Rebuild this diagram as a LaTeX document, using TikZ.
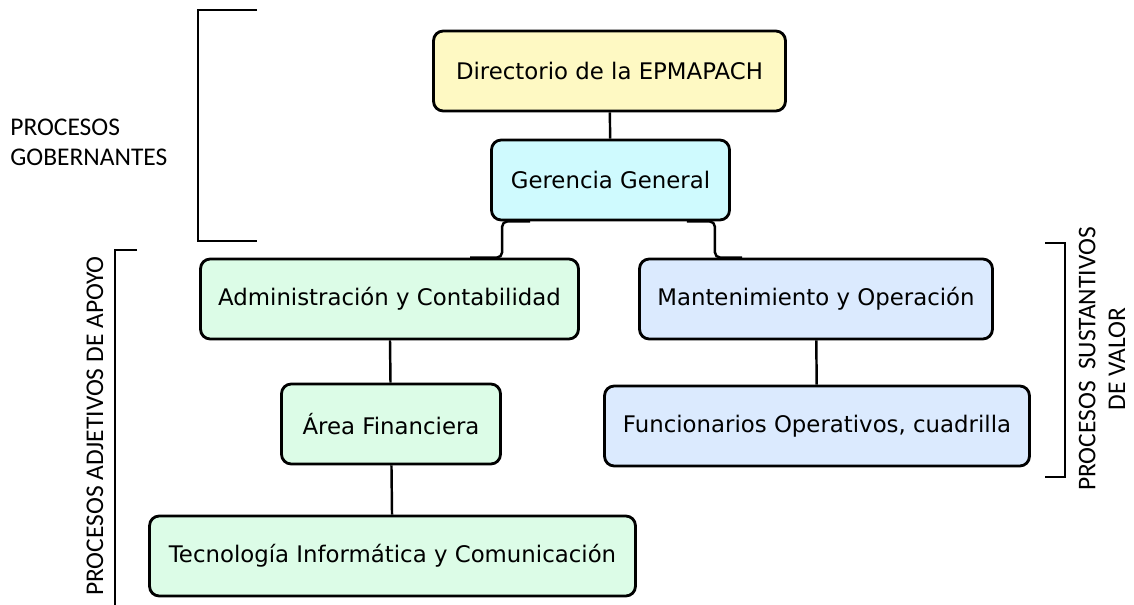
\documentclass[tikz,border=0pt]{standalone}
\usepackage{fontspec}
\setmainfont{DejaVu Sans}
\newfontfamily\etiqfont{Carlito}
\usetikzlibrary{calc,positioning}
\definecolor{dirYellow}{HTML}{FEF9C3}
\definecolor{gerCyan}{HTML}{CFFAFE}
\definecolor{apoyoGreen}{HTML}{DCFCE7}
\definecolor{valorBlue}{HTML}{DBEAFE}
\tikzset{caja/.style={rectangle,rounded corners=5.5pt,draw=black,line width=1.6pt,minimum height=1.6cm,inner sep=0pt,font=\fontsize{13}{15}\selectfont},
  enlace/.style={draw=black,line width=1.4pt,rounded corners=3pt},
  llave/.style={draw=black,line width=1.2pt},
  etiqueta/.style={font=\etiqfont\fontsize{14.5}{17}\selectfont,inner sep=0pt}}

\begin{document}
\begin{tikzpicture}[x=0.02cm,y=-0.02cm]
\useasboundingbox (0,0) rectangle (1134,605);

\node[caja,fill=dirYellow,minimum width=7.04cm] (dir) at (609.5,71) {Directorio de la EPMAPACH};
\node[caja,fill=gerCyan,minimum width=4.76cm] (ger) at (610.5,180) {Gerencia General};

\node[caja,fill=apoyoGreen,minimum width=7.56cm] (adm) at (389.5,299) {Administración y Contabilidad};
\node[caja,fill=apoyoGreen,minimum width=4.38cm] (fin) at (391,424) {Área Financiera};
\node[caja,fill=apoyoGreen,minimum width=9.72cm] (tec) at (392.5,556) {Tecnología Informática y Comunicación};

\node[caja,fill=valorBlue,minimum width=7.06cm] (man) at (816,299) {Mantenimiento y Operación};
\node[caja,fill=valorBlue,minimum width=8.50cm] (fun) at (817,426) {Funcionarios Operativos, cuadrilla};

\draw[enlace] (dir) -- (ger);
\draw[enlace] ([xshift=0.8cm]ger.south west) -- ++(-28,0) |- ([xshift=5.42cm]adm.north west);
\draw[enlace] ([xshift=-0.88cm]ger.south east) -- ++(28,0) |- ([xshift=2.08cm]man.north west);
\draw[enlace] (adm) -- (fin);
\draw[enlace] (fin) -- (tec);
\draw[enlace] (man) -- (fun);

% corchetes
\draw[llave] (257,10) -- (198,10) -- (198,241) -- (257,241);
\draw[llave] (137,250) -- (115,250) -- (115,610);
\draw[llave] (1045,243) -- (1065,243) -- (1065,477) -- (1045,477);

\node[etiqueta,anchor=west,align=left] (gob) at (10,142) {PROCESOS\\GOBERNANTES};
\node[etiqueta,rotate=90] (adj) at (95,426) {PROCESOS ADJETIVOS DE APOYO};
\node[etiqueta,rotate=90,align=center] (sus) at (1102,359) {PROCESOS\ \ SUSTANTIVOS\\DE VALOR};

\end{tikzpicture}
\end{document}
